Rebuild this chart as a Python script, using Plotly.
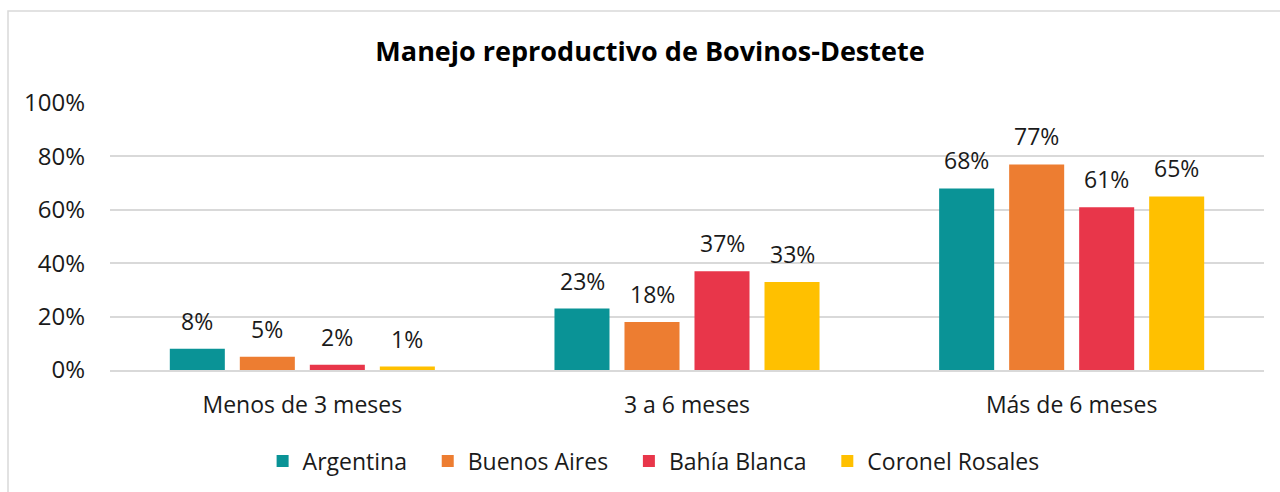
import plotly.graph_objects as go

categories = ["Menos de 3 meses", "3 a 6 meses", "Más de 6 meses"]
series_names = ["Argentina", "Buenos Aires", "Bahía Blanca", "Coronel Rosales"]
argentina = [0.08, 0.23, 0.68]
buenos_aires = [0.05, 0.18, 0.77]
bahia_blanca = [0.02, 0.37, 0.61]
coronel_rosales = [0.013, 0.33, 0.65]
colors = ["#0A9396", "#ED7D31", "#E8364A", "#FFC000"]
y_ticks = [0, 0.2, 0.4, 0.6, 0.8, 1.0]
y_tick_labels = ["0%", "20%", "40%", "60%", "80%", "100%"]

FONT = "Open Sans"
TXT = "#1a1a1a"
all_series = [argentina, buenos_aires, bahia_blanca, coronel_rosales]
fig = go.Figure()
pad = "\u00a0\u00a0\u2009"
for i, (name, vals, col) in enumerate(zip(series_names, all_series, colors)):
    fig.add_trace(go.Bar(
        name=name + pad, x=categories, y=vals, marker_color=col, marker_line_width=0,
        hoverinfo="skip",
    ))
    for c, v in zip(categories, vals):
        fig.add_annotation(x=c, y=v, text=f"{round(v*100):.0f}%", showarrow=False,
                           xshift=(i - 1.5) * 70, yshift=10, yanchor="bottom",
                           font=dict(family=FONT, size=23, color=TXT))

fig.update_layout(
    width=1280, height=492,
    margin=dict(l=110, r=16, t=103, b=122, autoexpand=False),
    paper_bgcolor="white", plot_bgcolor="white",
    barmode="group", bargap=0.272, bargroupgap=0.214,
    title=dict(text="<b>Manejo reproductivo de Bovinos-Destete</b>", x=650/1280, xanchor="center",
               y=1 - 52/492, yanchor="middle", font=dict(family=FONT, size=27, color="#000000")),
    font=dict(family=FONT, color=TXT),
    showlegend=True,
    legend=dict(orientation="h", x=0.478, xanchor="center", y=-(461-370)/267, yanchor="middle",
                font=dict(family=FONT, size=23, color=TXT), itemwidth=30, traceorder="normal"),
    xaxis=dict(showline=True, linecolor="#D9D9D9", linewidth=1.5, ticks="",
               tickfont=dict(family=FONT, size=23, color=TXT), ticklabelstandoff=14, fixedrange=True),
    yaxis=dict(range=[0, 1], tickvals=y_ticks, ticktext=y_tick_labels, showgrid=True,
               gridcolor="#D9D9D9", gridwidth=1.5, zeroline=False, ticks="",
               tickfont=dict(family=FONT, size=24, color=TXT), ticklabelstandoff=24, fixedrange=True),
)
fig.add_shape(type="rect", xref="paper", yref="paper", x0=(8-110)/1154, x1=1.2,
              y0=-1.0, y1=(370-11)/267, line=dict(color="#D9D9D9", width=1.5), layer="below")
fig.write_html("out.html", config={"displayModeBar": False},
               post_script="document.body.style.margin='0';")
